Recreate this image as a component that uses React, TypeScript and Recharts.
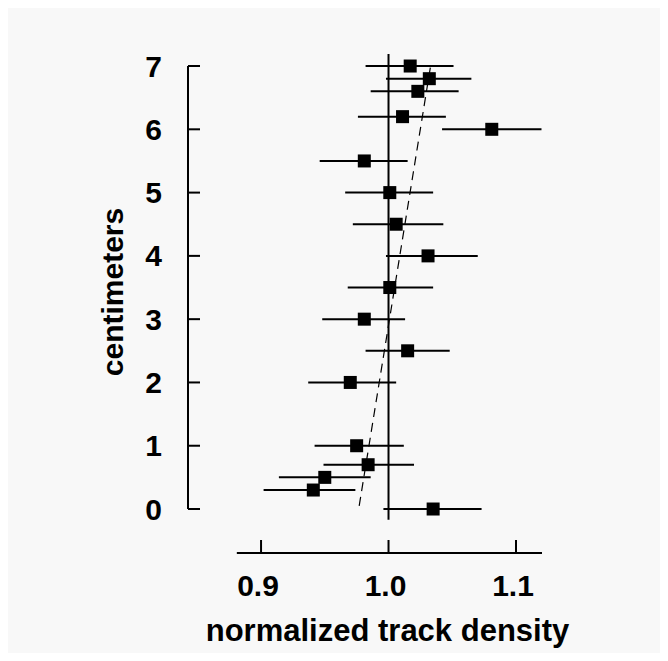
import { ScatterChart, Scatter, XAxis, YAxis, ErrorBar, ReferenceLine } from 'recharts';

// heights (cm) and normalized track density with error bar ends
const heights = [7.0, 6.8, 6.6, 6.2, 6.0, 5.5, 5.0, 4.5, 4.0, 3.5, 3.0, 2.5, 2.0, 1.0, 0.7, 0.5, 0.3, 0.0];
const density = [1.017, 1.032, 1.023, 1.011, 1.081, 0.981, 1.001, 1.006, 1.031, 1.001, 0.981, 1.015, 0.970, 0.975, 0.984, 0.950, 0.941, 1.035];
const lower = [0.982, 0.998, 0.986, 0.976, 1.042, 0.946, 0.966, 0.972, 0.998, 0.968, 0.948, 0.982, 0.937, 0.942, 0.949, 0.914, 0.902, 0.996];
const upper = [1.051, 1.065, 1.055, 1.045, 1.120, 1.015, 1.035, 1.043, 1.070, 1.035, 1.013, 1.048, 1.006, 1.012, 1.020, 0.986, 0.974, 1.073];

const xTicks = [0.9, 1.0, 1.1];
const yTicks = [0, 1, 2, 3, 4, 5, 6, 7];

// dashed fit line end points
const trendX = [0.977, 1.033];
const trendY = [0.05, 7.0];

const X_MIN = 0.8427;
const X_MAX = 1.1204;
const Y_MIN = -0.695;
const Y_MAX = 7.19;

const FONT = '"Liberation Sans", Arial, Helvetica, sans-serif';

const points = heights.map((h, i) => ({
  x: density[i],
  y: h,
  err: [density[i] - lower[i], upper[i] - density[i]],
}));

function SquareDot(props: any) {
  const { cx, cy } = props;
  if (cx == null || cy == null) return null;
  return <rect x={cx - 6.5} y={cy - 6.5} width={13} height={13} fill="#000" />;
}

function YTick(props: any) {
  const { x, y, payload } = props;
  return (
    <g>
      <line x1={x} y1={y} x2={x + 12} y2={y} stroke="#000" strokeWidth={2} />
      <text
        x={x - 26}
        y={y}
        textAnchor="end"
        dominantBaseline="central"
        fontFamily={FONT}
        fontWeight="bold"
        fontSize={30}
        fill="#000"
      >
        {payload.value}
      </text>
    </g>
  );
}

function XTick(props: any) {
  const { x, y, payload } = props;
  return (
    <g>
      <line x1={x} y1={y} x2={x} y2={y - 13} stroke="#000" strokeWidth={2} />
      <text
        x={x - 3}
        y={y + 43}
        textAnchor="middle"
        fontFamily={FONT}
        fontWeight="bold"
        fontSize={30}
        fill="#000"
      >
        {payload.value.toFixed(1)}
      </text>
    </g>
  );
}

export default function App() {
  return (
    <div style={{ width: 660, height: 645, background: '#f8f8f8' }}>
      <ScatterChart width={660} height={645} margin={{ top: 46, right: 126, bottom: 40, left: 100 }}>
        <XAxis
          type="number"
          dataKey="x"
          domain={[X_MIN, X_MAX]}
          allowDataOverflow
          ticks={xTicks}
          interval={0}
          axisLine={false}
          tickLine={false}
          tickSize={0}
          tickMargin={0}
          height={60}
          tick={<XTick />}
          label={{
            content: (p: any) => (
              <text
                x={p.viewBox.x + 199.5}
                y={p.viewBox.y + 88}
                textAnchor="middle"
                fontFamily={FONT}
                fontWeight="bold"
                fontSize={31}
                fill="#000"
              >
                normalized track density
              </text>
            ),
          }}
        />
        <YAxis
          type="number"
          dataKey="y"
          domain={[Y_MIN, Y_MAX]}
          allowDataOverflow
          ticks={yTicks}
          interval={0}
          axisLine={false}
          tickLine={false}
          tickSize={0}
          tickMargin={0}
          width={80}
          tick={<YTick />}
          label={{
            content: (p: any) => (
              <text
                x={p.viewBox.x + 4}
                y={284}
                transform={`rotate(-90 ${p.viewBox.x + 4} 284)`}
                textAnchor="middle"
                dominantBaseline="central"
                fontFamily={FONT}
                fontWeight="bold"
                fontSize={30}
                fill="#000"
              >
                centimeters
              </text>
            ),
          }}
        />
        {/* axis lines */}
        <ReferenceLine
          segment={[{ x: X_MIN, y: 0 }, { x: X_MIN, y: 7 }]}
          stroke="#000"
          strokeWidth={2}
          ifOverflow="visible"
        />
        <ReferenceLine
          segment={[{ x: 0.881, y: Y_MIN }, { x: X_MAX, y: Y_MIN }]}
          stroke="#000"
          strokeWidth={2}
          ifOverflow="visible"
        />
        <ReferenceLine
          segment={[{ x: 1.0, y: -0.17 }, { x: 1.0, y: Y_MAX }]}
          stroke="#000"
          strokeWidth={2}
          ifOverflow="visible"
        />
        <ReferenceLine
          segment={[{ x: trendX[0], y: trendY[0] }, { x: trendX[1], y: trendY[1] }]}
          stroke="#000"
          strokeWidth={1.2}
          strokeDasharray="9 6"
          ifOverflow="visible"
        />
        <Scatter data={points} shape={<SquareDot />} isAnimationActive={false}>
          <ErrorBar dataKey="err" direction="x" width={0} stroke="#000" strokeWidth={2} isAnimationActive={false} />
        </Scatter>
      </ScatterChart>
    </div>
  );
}
